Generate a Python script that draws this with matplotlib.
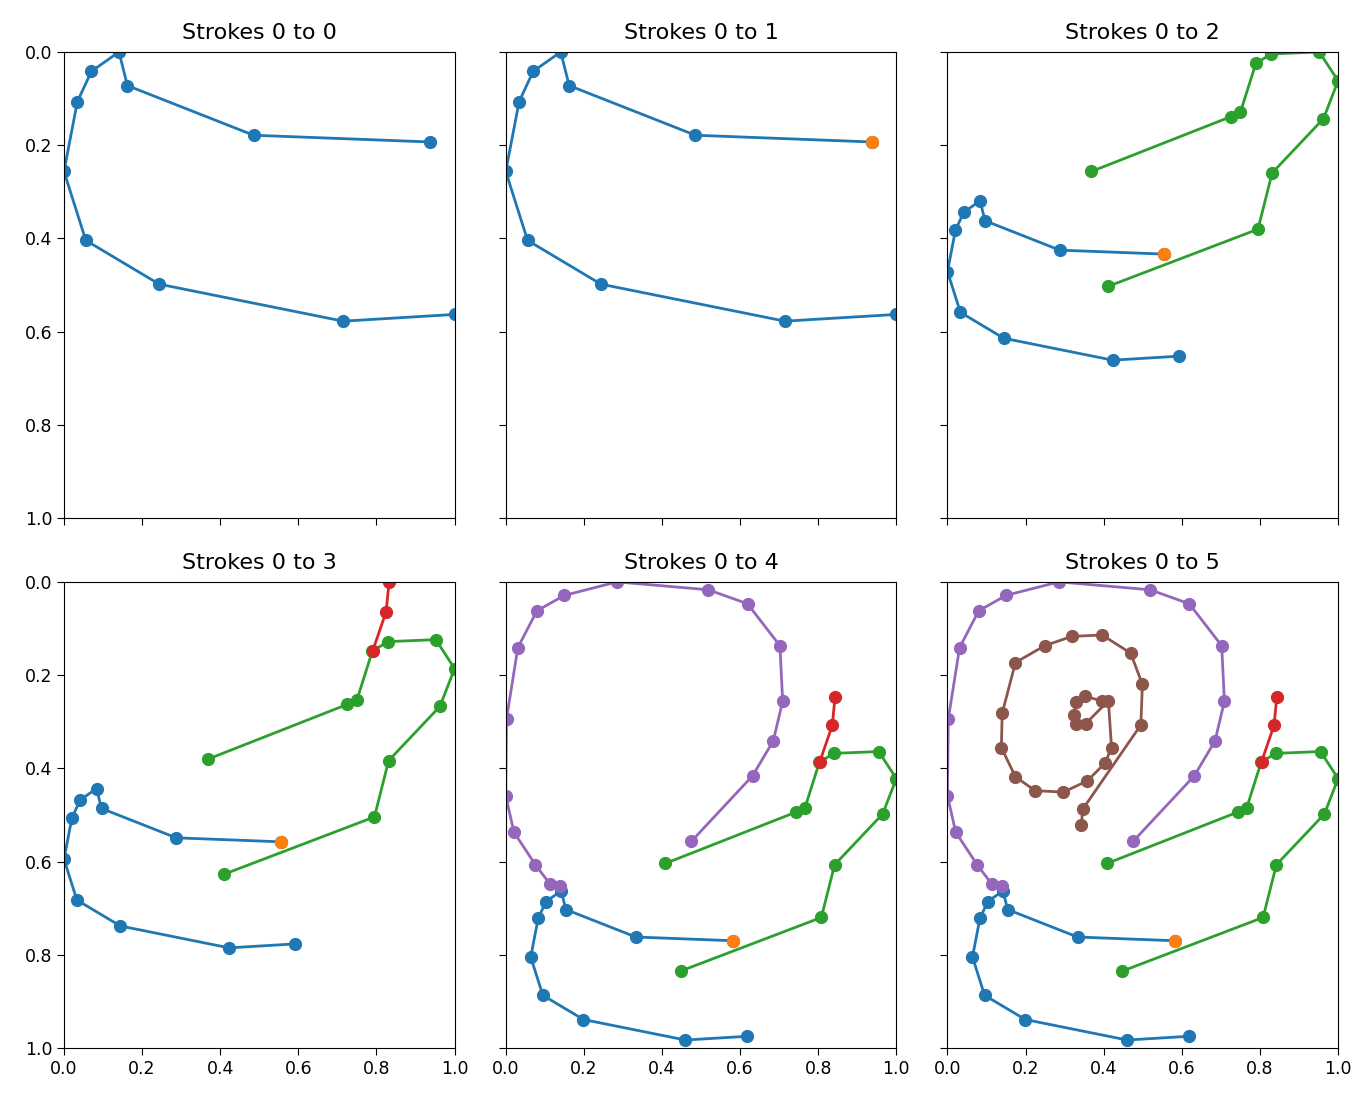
import numpy
import matplotlib
matplotlib.use("Agg")
import matplotlib.pyplot as plt

# stroke points, in the frame of the last panel (all strokes)
stroke0_x = [0.618, 0.460, 0.199, 0.095, 0.064, 0.083, 0.103, 0.142, 0.154, 0.333, 0.583]
stroke0_y = [0.975, 0.983, 0.939, 0.887, 0.805, 0.722, 0.686, 0.663, 0.703, 0.762, 0.770]

stroke1_x = [0.583]
stroke1_y = [0.770]

stroke2_x = [0.409, 0.743, 0.766, 0.803, 0.840, 0.955, 1.000, 0.965, 0.842, 0.808, 0.448]
stroke2_y = [0.604, 0.494, 0.485, 0.387, 0.368, 0.364, 0.422, 0.498, 0.607, 0.720, 0.835]

stroke3_x = [0.843, 0.836, 0.804]
stroke3_y = [0.248, 0.308, 0.386]

stroke4_x = [0.475, 0.632, 0.685, 0.709, 0.702, 0.619, 0.519, 0.285, 0.150, 0.080,
             0.031, 0.002, 0.000, 0.021, 0.076, 0.113, 0.140]
stroke4_y = [0.557, 0.416, 0.341, 0.256, 0.137, 0.047, 0.017, 0.000, 0.029, 0.062,
             0.141, 0.294, 0.459, 0.537, 0.607, 0.648, 0.652]

stroke5_x = [0.343, 0.346, 0.495, 0.499, 0.469, 0.396, 0.318, 0.249, 0.174, 0.140,
             0.138, 0.174, 0.224, 0.297, 0.358, 0.403, 0.420, 0.412, 0.354, 0.329,
             0.323, 0.330, 0.352, 0.396]
stroke5_y = [0.521, 0.488, 0.307, 0.220, 0.153, 0.114, 0.117, 0.137, 0.173, 0.282,
             0.356, 0.418, 0.448, 0.451, 0.427, 0.389, 0.356, 0.255, 0.304, 0.306,
             0.285, 0.258, 0.245, 0.256]

strokes_x = [stroke0_x, stroke1_x, stroke2_x, stroke3_x, stroke4_x, stroke5_x]
strokes_y = [stroke0_y, stroke1_y, stroke2_y, stroke3_y, stroke4_y, stroke5_y]


def main():
    fig, axes = plt.subplots(2, 3, figsize=(13.64, 11.1), dpi=100, sharex=True, sharey=True)
    fig.subplots_adjust(left=0.0469, right=0.981, top=0.9532, bottom=0.0559,
                        wspace=0.131, hspace=0.137)

    for k, ax in enumerate(axes.flat):
        # normalise strokes 0..k together, keeping aspect
        pts = numpy.array([(x, y) for i in range(k + 1)
                           for x, y in zip(strokes_x[i], strokes_y[i])])
        lo = pts.min(axis=0)
        scale = (pts.max(axis=0) - lo).max()
        for i in range(k + 1):
            xs = (numpy.array(strokes_x[i]) - lo[0]) / scale
            ys = (numpy.array(strokes_y[i]) - lo[1]) / scale
            ax.plot(xs, ys, "o-", color=f"C{i}", lw=2, ms=8.5)
        ax.set_title(f"Strokes 0 to {k}", fontsize=16, pad=9)
        ax.tick_params(labelsize=12.5, length=5)

    ax = axes[0, 0]
    ax.set_xlim(0.0, 1.0)
    ax.set_ylim(1.0, 0.0)
    ax.set_xticks([0.0, 0.2, 0.4, 0.6, 0.8, 1.0])
    ax.set_yticks([0.0, 0.2, 0.4, 0.6, 0.8, 1.0])

    fig.savefig("out.png", dpi=100)


if __name__ == "__main__":
    main()
